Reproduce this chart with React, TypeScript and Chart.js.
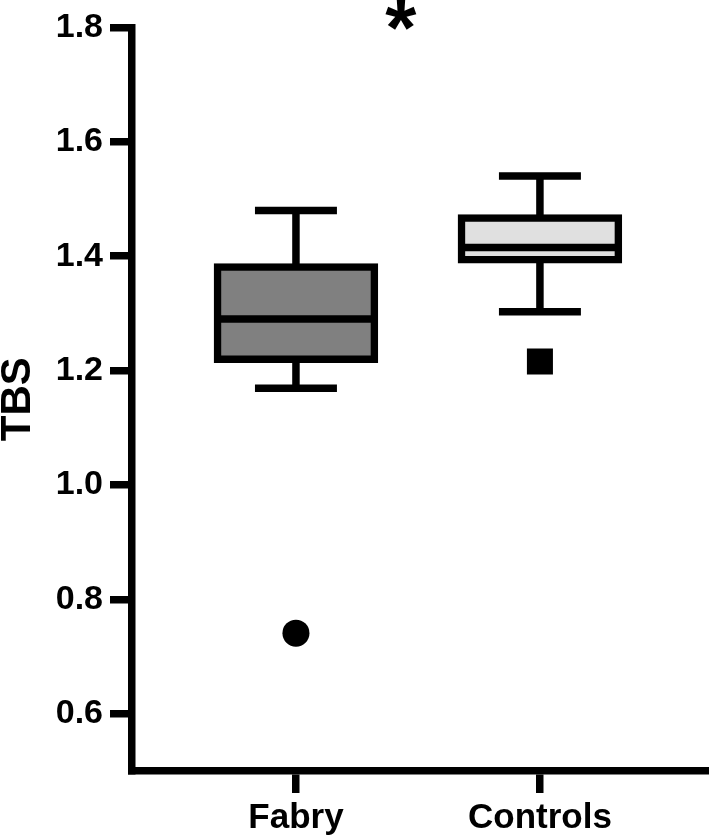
import React, { useEffect, useRef } from "react";
import { Chart, registerables } from "chart.js";

Chart.register(...registerables);

// ---- data ----
const categories = ["Fabry", "Controls"];
const whiskerLow = [1.169, 1.303];
const q1 = [1.22, 1.394];
const median = [1.29, 1.415];
const q3 = [1.381, 1.467];
const whiskerHigh = [1.48, 1.54];
const outliers = [0.741, 1.216];
const yTicks = [0.6, 0.8, 1.0, 1.2, 1.4, 1.6, 1.8];
const boxColors = ["#808080", "#e0e0e0"];
const outlierStyles = ["circle", "rect"];
const significance = "*";

// ---- geometry / style constants ----
const xPositions = categories.map((_, i) => i + 1);
const capHalf = 0.168;
const medianHalf = 0.322;
const LW = 7.5;
const fontFam = "'Liberation Sans', Arial, sans-serif";

function whiskerData(i: number) {
  const x = xPositions[i];
  return [
    { x, y: q3[i] },
    { x, y: whiskerHigh[i] },
    { x, y: null },
    { x: x - capHalf, y: whiskerHigh[i] },
    { x: x + capHalf, y: whiskerHigh[i] },
    { x, y: null },
    { x, y: q1[i] },
    { x, y: whiskerLow[i] },
    { x, y: null },
    { x: x - capHalf, y: whiskerLow[i] },
    { x: x + capHalf, y: whiskerLow[i] },
    { x, y: null },
    { x: x - medianHalf, y: median[i] },
    { x: x + medianHalf, y: median[i] },
  ];
}

const asteriskPlugin = {
  id: "asterisk",
  afterDraw(chart: any) {
    const { ctx, scales } = chart;
    const x = scales.x.getPixelForValue(1.43);
    const y = scales.y.getPixelForValue(1.821);
    ctx.save();
    ctx.font = `bold 80px ${fontFam}`;
    ctx.fillStyle = "#000";
    ctx.textAlign = "center";
    ctx.textBaseline = "alphabetic";
    const m = ctx.measureText(significance);
    const baseline = y + (m.actualBoundingBoxAscent - m.actualBoundingBoxDescent) / 2;
    ctx.fillText(significance, x, baseline);
    ctx.restore();
  },
};

export default function App() {
  const ref = useRef<HTMLCanvasElement | null>(null);

  useEffect(() => {
    document.body.style.margin = "0";
    const canvas = ref.current;
    if (!canvas) return;

    const datasets: any[] = [
      {
        type: "bar",
        data: categories.map((_, i) => ({ x: xPositions[i], y: [q1[i], q3[i]] })),
        backgroundColor: boxColors,
        borderColor: "#000",
        borderWidth: LW,
        borderSkipped: false,
        inflateAmount: LW / 2,
        barThickness: 157,
        grouped: false,
        order: 2,
      },
      ...categories.map((_, i) => ({
        type: "line",
        data: whiskerData(i),
        borderColor: "#000",
        borderWidth: LW,
        borderCapStyle: "butt",
        pointRadius: 0,
        spanGaps: false,
        fill: false,
        tension: 0,
        order: 1,
      })),
      ...categories.map((_, i) => ({
        type: "scatter",
        data: [{ x: xPositions[i], y: outliers[i] }],
        pointStyle: outlierStyles[i],
        pointRadius: outlierStyles[i] === "rect" ? 18.4 : 13.5,
        pointBackgroundColor: "#000",
        pointBorderWidth: 0,
        order: 0,
      })),
    ];

    const chart = new Chart(canvas, {
      type: "bar",
      data: { datasets },
      options: {
        animation: false,
        responsive: false,
        devicePixelRatio: 1,
        layout: { autoPadding: false, padding: { top: 24, right: 0, bottom: 0, left: 0 } },
        plugins: { legend: { display: false }, tooltip: { enabled: false } },
        scales: {
          x: {
            type: "linear",
            min: 0.328,
            max: 2.693,
            offset: false,
            afterFit: (s: any) => {
              s.height = 68;
            },
            afterBuildTicks: (s: any) => {
              s.ticks = xPositions.map((v) => ({ value: v }));
            },
            grid: {
              offset: false,
              drawOnChartArea: false,
              drawTicks: true,
              tickLength: 22,
              tickWidth: LW,
              tickColor: "#000",
              lineWidth: LW,
            },
            border: { display: true, width: LW, color: "#000" },
            ticks: {
              color: "#000",
              padding: 8,
              maxRotation: 0,
              font: { family: fontFam, size: 35, weight: "bold", lineHeight: 1 },
              callback: (v: any) => categories[Math.round(Number(v)) - 1] ?? "",
            },
          },
          y: {
            type: "linear",
            min: 0.5,
            max: 1.8,
            afterFit: (s: any) => {
              s.width = 132;
            },
            afterBuildTicks: (s: any) => {
              s.ticks = yTicks.map((v) => ({ value: v }));
            },
            grid: {
              drawOnChartArea: false,
              drawTicks: true,
              tickLength: 22,
              tickWidth: LW,
              tickColor: "#000",
              lineWidth: LW,
            },
            border: { display: true, width: LW, color: "#000" },
            ticks: {
              color: "#000",
              padding: 7,
              font: { family: fontFam, size: 34, weight: "bold" },
              callback: (v: any) => Number(v).toFixed(1),
            },
            title: {
              display: true,
              text: "TBS",
              color: "#000",
              padding: { top: 2, bottom: 0 },
              font: { family: fontFam, size: 42, weight: "bold", lineHeight: 0.8 },
            },
          },
        },
      } as any,
      plugins: [asteriskPlugin],
    });

    return () => chart.destroy();
  }, []);

  return (
    <div style={{ width: 709, height: 839, background: "#fff" }}>
      <canvas ref={ref} width={709} height={839} style={{ display: "block" }} />
    </div>
  );
}
